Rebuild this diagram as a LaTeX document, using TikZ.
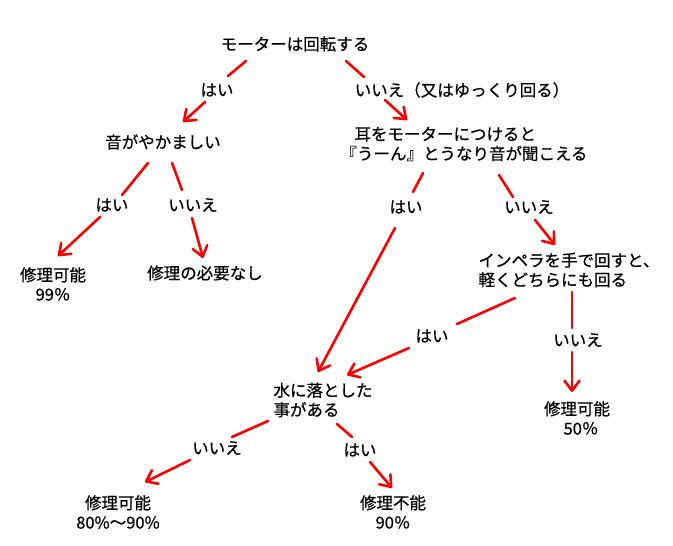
\documentclass[tikz,border=0pt]{standalone}
\usepackage{fontspec}
\newfontfamily\jp[FakeBold=0.6]{Noto Sans CJK JP}
\usetikzlibrary{arrows.meta,calc}
\begin{document}
\begin{tikzpicture}[x=1pt,y=-1pt,
  txt/.style={inner sep=0pt, font=\jp\fontsize{16.5}{19.5}\selectfont, text=black},
  conn/.style={draw=red, line width=2.6pt, line cap=round},
  arr/.style={conn, -{Straight Barb[length=10pt,width=15pt,round]}}]
\fill[white] (0,0) rectangle (673,546);
\useasboundingbox (0,0) rectangle (673,546);
% nodes
\node[txt] (root) at (295,44) {モーターは回転する};
\node[txt] (h1) at (217,90) {はい};
\node[txt] (n1) at (462,90) {いいえ（又はゆっくり回る）};
\node[txt] (oto) at (163,142) {音がやかましい};
\node[txt,align=left] (mimi) at (464,144) {\hspace*{14pt}耳をモーターにつけると\\『うーん』とうなり音が聞こえる};
\node[txt] (h2) at (112,205) {はい};
\node[txt] (n2) at (193,205) {いいえ};
\node[txt,align=center] (k99) at (53,284) {修理可能\\99％};
\node[txt] (fuyo) at (205,273) {修理の必要なし};
\node[txt] (h3) at (406,207) {はい};
\node[txt] (n3) at (529,207) {いいえ};
\node[txt,align=left] (imp) at (569,270) {インペラを手で回すと、\\軽くどちらにも回る};
\node[txt] (h4) at (432,336) {はい};
\node[txt] (n4) at (578,340) {いいえ};
\node[txt,align=left] (mizu) at (323,400) {水に落とした\\事がある};
\node[txt,align=center] (k50) at (577,418) {修理可能\\\hspace*{8pt}50％};
\node[txt] (n5) at (217,448) {いいえ};
\node[txt] (h5) at (360,450) {はい};
\node[txt,align=center] (k8090) at (118,512) {修理可能\\80\%～90\%};
\node[txt,align=center] (k90) at (393,512) {修理不能\\90％};
% connectors
\draw[conn] ($(root)+(-49,17)$) -- ($(h1)+(11,-14)$);
\draw[arr]  ($(h1)+(-12,12)$) -- ($(oto)+(20,-20)$);
\draw[conn] ($(root)+(51,17)$) -- ($(n1)+(-98,-13)$);
\draw[arr]  ($(n1)+(-77,10)$) -- ($(mimi)+(-57,-24)$);
\draw[conn] ($(oto)+(-15,21)$) -- ($(h2)+(10,-10)$);
\draw[arr]  ($(h2)+(-12,12)$) -- ($(k99)+(5,-28)$);
\draw[conn] ($(oto)+(9,21)$) -- ($(n2)+(-11,-15)$);
\draw[arr]  ($(n2)+(-1,13)$) -- ($(fuyo)+(-2,-15)$);
\draw[conn] ($(mimi)+(-41,29)$) -- ($(h3)+(7,-15)$);
\draw[arr]  ($(h3)+(-11,21)$) -- ($(mizu)+(-5,-28)$);
\draw[conn] ($(mimi)+(35,31)$) -- ($(n3)+(-16,-10)$);
\draw[arr]  ($(n3)+(6,13)$) -- ($(imp)+(-14,-25)$);
\draw[conn] ($(imp)+(-54,28)$) -- ($(h4)+(25,-12)$);
\draw[arr]  ($(h4)+(-23,12)$) -- ($(mizu)+(24,-25)$);
\draw[conn] ($(imp)+(3,22)$) -- ($(n4)+(-6,-12)$);
\draw[arr]  ($(n4)+(-6,12)$) -- ($(k50)+(-5,-26)$);
\draw[conn] ($(mizu)+(-55,21)$) -- ($(n5)+(15,-11)$);
\draw[arr]  ($(n5)+(-27,12)$) -- ($(k8090)+(27,-30)$);
\draw[conn] ($(mizu)+(14,24)$) -- ($(h5)+(-8,-13)$);
\draw[arr]  ($(h5)+(10,12)$) -- ($(k90)+(-1,-24)$);
\end{tikzpicture}
\end{document}
